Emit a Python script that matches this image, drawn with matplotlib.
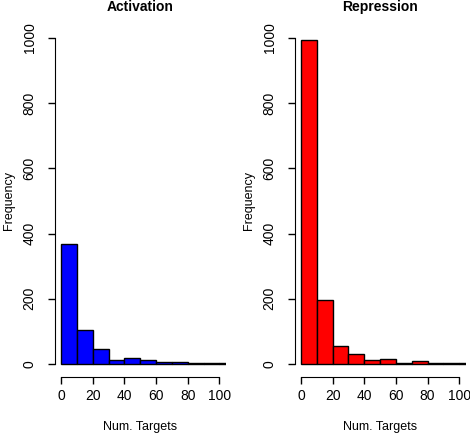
import numpy as np
import matplotlib.pyplot as plt

plt.rcParams['font.family'] = ['Liberation Sans', 'DejaVu Sans']

# histogram bins (width 10) and counts
bin_edges = [0, 10, 20, 30, 40, 50, 60, 70, 80, 90, 100]
act_counts = [368, 103, 47, 12, 17, 13, 6, 6, 3, 3, 2]
rep_counts = [993, 197, 56, 30, 13, 15, 4, 8, 3, 3, 3]

panels = [
    ("Activation", act_counts, "blue"),
    ("Repression", rep_counts, "red"),
]

fig = plt.figure(figsize=(4.7, 4.34), dpi=100)
W, H = 470, 434
lefts = [54.7, 294.6]
for (title, counts, col), lx in zip(panels, lefts):
    ax = fig.add_axes([lx / W, 1 - 377 / H, 171 / W, 352 / H])
    ax.bar(bin_edges, counts, width=10, align='edge', color=col,
           edgecolor='black', linewidth=1.0)
    ax.set_xlim(-4, 104)
    ax.set_ylim(-40, 1040)
    for s in ['top', 'right']:
        ax.spines[s].set_visible(False)
    ax.spines['left'].set_bounds(0, 1000)
    ax.spines['bottom'].set_bounds(0, 100)
    ax.set_xticks(np.arange(0, 101, 20))
    ax.set_yticks(np.arange(0, 1001, 200))
    ax.tick_params(axis='both', length=5, width=1, labelsize=10)
    ax.tick_params(axis='x', pad=4)
    ax.tick_params(axis='y', pad=8)
    for lab in ax.get_yticklabels():
        lab.set_rotation(90)
        lab.set_va('center')
    ax.set_title(title, fontsize=10, fontweight='bold', pad=10)
    ax.set_xlabel("Num. Targets", fontsize=9, va='center')
    ax.xaxis.set_label_coords(0.5, -50 / 352)
    ax.set_ylabel("Frequency", fontsize=9, va='center')
    ax.yaxis.set_label_coords(-46 / 171, 0.5)

fig.savefig("out.png", dpi=100)
